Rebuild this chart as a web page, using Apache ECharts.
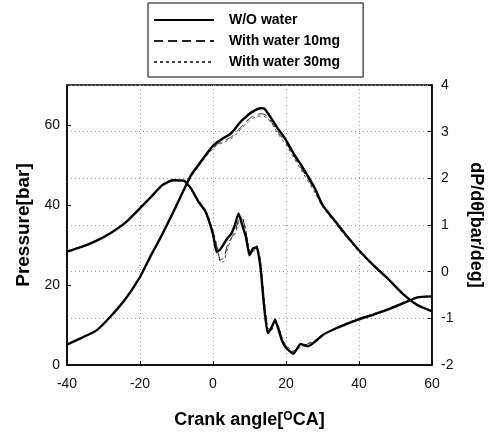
<!DOCTYPE html>
<html>
<head>
<meta charset="utf-8">
<script src="https://cdn.jsdelivr.net/npm/echarts@6/dist/echarts.min.js"></script>
<style>html,body{margin:0;padding:0;background:#fff;}#c{width:493px;height:434px;}</style>
</head>
<body>
<div id="c"></div>
<script>
var angles = [-40,-36,-32,-28,-24,-20,-17,-14,-11,-8,-6,-4,-2,0,1,2,3,4,5,6,7,8,9,10,11,12,13,14,15,16,17,18,19,20,22,24,26,28,30,33,36,40,44,48,52,56,60];
var seriesNames = ['W/O water','With water 10mg','With water 30mg'];
var pressWO  = [5.1,6.8,8.6,12.2,16.5,22,27.4,32.5,38,43.8,47.5,50,52.5,54.8,55.6,56.2,56.8,57.3,58,59,60.2,61.2,62,62.8,63.4,63.9,64.2,64.1,63,61.6,60.2,58.8,57.6,56.2,53,50.2,47.2,44,40,36.5,33,28.7,24.9,21.5,17.8,15,13.4];
var press10  = [5.1,6.8,8.6,12.2,16.5,22,27.4,32.5,38,43.6,47.2,49.8,52.2,54.4,55.1,55.6,56,56.5,57,57.8,58.8,59.8,60.8,61.6,62.2,62.6,62.8,62.7,62,60.8,59.5,58,56.8,55.6,52.5,49.5,46.5,43.5,39.8,36.2,32.7,28.5,24.7,21.3,17.7,15,13.4];
var press30  = [5.1,6.8,8.6,12.2,16.5,22,27.4,32.5,38,43.5,47,49.6,52,54.1,54.8,55.3,55.7,56.1,56.6,57.4,58.4,59.4,60.3,61.1,61.7,62.1,62.3,62.2,61.6,60.4,59,57.6,56.3,55.1,52,49,46,43,39.5,36,32.5,28.3,24.6,21.2,17.6,15,13.4];
var dpWO     = [0.43,0.53,0.66,0.83,1.05,1.36,1.6,1.85,1.96,1.95,1.78,1.5,1.28,0.8,0.42,0.48,0.6,0.72,0.81,1.0,1.25,1.0,0.75,0.35,0.5,0.52,0.1,-0.75,-1.32,-1.2,-1.04,-1.25,-1.5,-1.63,-1.76,-1.55,-1.6,-1.5,-1.36,-1.24,-1.14,-1.02,-0.92,-0.81,-0.68,-0.55,-0.53];
var dp10     = [0.43,0.53,0.66,0.83,1.05,1.36,1.6,1.85,1.96,1.95,1.8,1.52,1.3,0.85,0.55,0.25,0.3,0.58,0.72,0.85,1.1,1.15,0.85,0.42,0.45,0.55,0.2,-0.6,-1.25,-1.25,-1.0,-1.2,-1.45,-1.6,-1.72,-1.6,-1.55,-1.48,-1.36,-1.24,-1.13,-1.01,-0.91,-0.8,-0.67,-0.55,-0.53];
var dp30     = [0.43,0.53,0.66,0.83,1.05,1.36,1.6,1.85,1.96,1.95,1.8,1.53,1.32,0.88,0.58,0.2,0.22,0.5,0.7,0.8,1.05,1.18,0.9,0.45,0.42,0.56,0.25,-0.55,-1.2,-1.27,-1.02,-1.18,-1.42,-1.58,-1.7,-1.62,-1.54,-1.47,-1.35,-1.23,-1.12,-1.0,-0.9,-0.79,-0.66,-0.54,-0.52];
var xTicks = {min:-40, max:60, interval:20};
var pTicks = {min:0, max:70, interval:20};
var dTicks = {min:-2, max:4, interval:1};

function pairs(ys){ return angles.map(function(a,i){ return [a, ys[i]]; }); }
var styles = [
  {color:'#000', width:2.4, type:'solid'},
  {color:'#222', width:1, type:[9,5]},
  {color:'#444', width:1, type:[3,3]}
];
var pData = [pressWO, press10, press30];
var dData = [dpWO, dp10, dp30];
var series = [];
for (var k=0;k<3;k++){
  series.push({name:seriesNames[k], type:'line', yAxisIndex:0, showSymbol:false, symbol:'none', smooth:0.15,
    data:pairs(pData[k]), lineStyle:styles[k], itemStyle:{color:styles[k].color}, z:10-k, animation:false});
  series.push({name:seriesNames[k], type:'line', yAxisIndex:1, showSymbol:false, symbol:'none', smooth:0.15,
    data:pairs(dData[k]), lineStyle:styles[k], itemStyle:{color:styles[k].color}, z:10-k, animation:false});
}
var font = 'Liberation Sans, Arial, sans-serif';
var chart = echarts.init(document.getElementById('c'), null, {renderer:'canvas'});
chart.setOption({
  backgroundColor:'#fff',
  animation:false,
  grid:{left:67, right:57, top:85, bottom:67, show:true, borderColor:'#000', borderWidth:1.5, backgroundColor:'transparent'},
  legend:{
    data:seriesNames, orient:'vertical', left:148, top:3,
    itemWidth:60, itemHeight:14, itemGap:7,
    padding:[10,23,8,5],
    borderColor:'#000', borderWidth:1,
    itemStyle:{opacity:0},
    textStyle:{fontFamily:font, fontWeight:'bold', fontSize:14, color:'#000', padding:[0,0,0,10]},
    selectedMode:false
  },
  xAxis:{type:'value', min:xTicks.min, max:xTicks.max, interval:xTicks.interval,
    name:'{a|Crank angle[}{s|O}{a|CA]}', nameLocation:'middle', nameGap:46,
    nameTextStyle:{rich:{a:{fontFamily:font, fontWeight:'bold', fontSize:18, color:'#000'}, s:{fontFamily:font, fontWeight:'bold', fontSize:12, color:'#000', verticalAlign:'top', padding:[0,0,6,0]}}},
    axisLine:{onZero:false, lineStyle:{color:'#000', width:1.5}},
    axisTick:{inside:true, length:4, lineStyle:{color:'#000'}},
    axisLabel:{fontFamily:font, fontSize:14, color:'#111', margin:12},
    splitLine:{show:true, lineStyle:{color:'#999', type:[1,3], width:1}}
  },
  yAxis:[
    {type:'value', min:pTicks.min, max:pTicks.max, interval:pTicks.interval, position:'left',
     name:'Pressure[bar]', nameLocation:'middle', nameGap:34, nameRotate:90,
     nameTextStyle:{fontFamily:font, fontWeight:'bold', fontSize:19, color:'#000'},
     axisLine:{show:true, onZero:false, lineStyle:{color:'#000', width:1.5}},
     axisTick:{show:true, inside:true, length:4, lineStyle:{color:'#000'}},
     axisLabel:{fontFamily:font, fontSize:14, color:'#111', margin:7, showMaxLabel:false},
     splitLine:{show:false}},
    {type:'value', min:dTicks.min, max:dTicks.max, interval:dTicks.interval, position:'right',
     name:'dP/dθ[bar/deg]', nameLocation:'middle', nameGap:35, nameRotate:-90,
     nameTextStyle:{fontFamily:font, fontWeight:'bold', fontSize:18, color:'#000'},
     axisLine:{show:true, onZero:false, lineStyle:{color:'#000', width:1.5}},
     axisTick:{show:true, inside:true, length:4, lineStyle:{color:'#000'}},
     axisLabel:{fontFamily:font, fontSize:14, color:'#111', margin:9},
     splitLine:{show:true, lineStyle:{color:'#999', type:[1,3], width:1}}}
  ],
  series:series
});
</script>
</body>
</html>
